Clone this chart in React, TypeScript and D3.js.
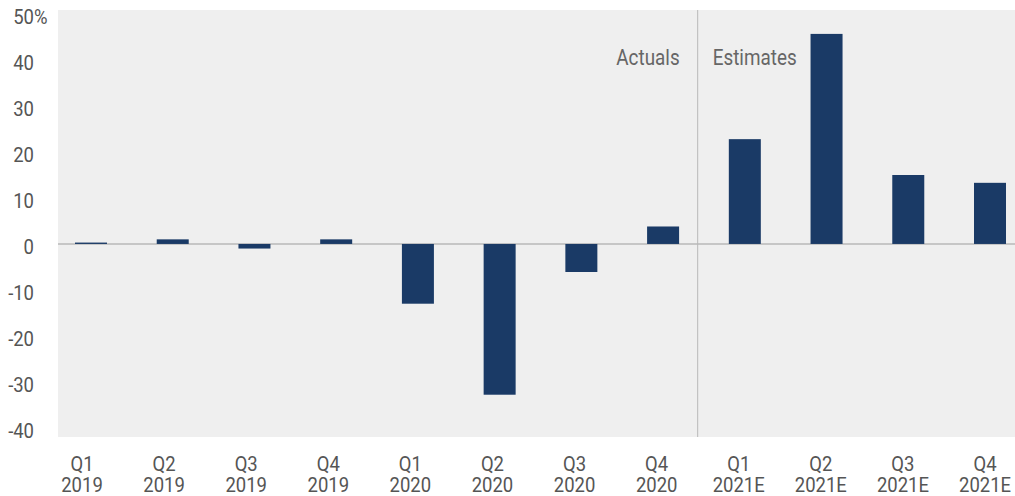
import React from "react";
import * as d3 from "d3";

const quarters = ["Q1", "Q2", "Q3", "Q4", "Q1", "Q2", "Q3", "Q4", "Q1", "Q2", "Q3", "Q4"];
const years = ["2019", "2019", "2019", "2019", "2020", "2020", "2020", "2020", "2021E", "2021E", "2021E", "2021E"];
const values = [0.3, 1.0, -1.0, 1.0, -13.0, -32.8, -6.1, 3.8, 22.8, 45.7, 15.0, 13.3];
const yTicks = [50, 40, 30, 20, 10, 0, -10, -20, -30, -40];

const W = 1015;
const H = 496;
const plotLeft = 58;
const plotRight = 1015;
const plotTop = 10;
const plotBottom = 437;

const font = "Roboto, 'Noto Sans', sans-serif";

function CText(props: {
  x: number;
  y: number;
  size: number;
  sx: number;
  anchor: string;
  fill: string;
  children: React.ReactNode;
}) {
  return (
    <g transform={`translate(${props.x},${props.y}) scale(${props.sx},1)`}>
      <text x={0} y={0} textAnchor={props.anchor as any} fontFamily={font} fontSize={props.size} fill={props.fill}>
        {props.children}
      </text>
    </g>
  );
}

export default function App() {
  const ids = values.map((_, i) => String(i));
  const xBar = d3.scalePoint<string>().domain(ids).range([91, 990]);
  const xLab = d3.scalePoint<string>().domain(ids).range([82, 985]);
  const y = d3.scaleLinear().domain([-42, 50.9]).range([plotBottom, plotTop]);
  const barW = 32;
  const dividerX = ((xLab("7") as number) + (xLab("8") as number)) / 2;
  return (
    <svg width={W} height={H} style={{ position: "absolute", left: 0, top: 0 }}>
      <rect x={0} y={0} width={W} height={H} fill="#ffffff" />
      <rect x={plotLeft} y={plotTop} width={plotRight - plotLeft} height={plotBottom - plotTop} fill="#efefef" />
      <line x1={plotLeft} x2={plotRight} y1={y(0)} y2={y(0)} stroke="#b8b8b8" strokeWidth={1.5} />
      <line x1={dividerX} x2={dividerX} y1={plotTop} y2={plotBottom} stroke="#b8b8b8" strokeWidth={1} />
      {values.map((v, i) => (
        <rect
          key={i}
          x={(xBar(String(i)) as number) - barW / 2}
          y={y(Math.max(0, v))}
          width={barW}
          height={Math.abs(y(v) - y(0))}
          fill="#1a3a66"
        />
      ))}
      {yTicks.map((t) => (
        <g key={t}>
          <CText x={34} y={y(t) + 10} size={21} sx={0.88} anchor="end" fill="#555">
            {t}
          </CText>
          {t === 50 && (
            <CText x={34} y={y(t) + 10} size={21} sx={0.88} anchor="start" fill="#555">
              %
            </CText>
          )}
        </g>
      ))}
      {values.map((_, i) => (
        <g key={"l" + i}>
          <CText x={xLab(String(i)) as number} y={471} size={21} sx={0.88} anchor="middle" fill="#555">
            {quarters[i]}
          </CText>
          <CText x={xLab(String(i)) as number} y={492} size={21} sx={0.88} anchor="middle" fill="#555">
            {years[i]}
          </CText>
        </g>
      ))}
      <CText x={dividerX - 18} y={65} size={22.5} sx={0.84} anchor="end" fill="#666">
        Actuals
      </CText>
      <CText x={dividerX + 15} y={65} size={22.5} sx={0.84} anchor="start" fill="#666">
        Estimates
      </CText>
    </svg>
  );
}
